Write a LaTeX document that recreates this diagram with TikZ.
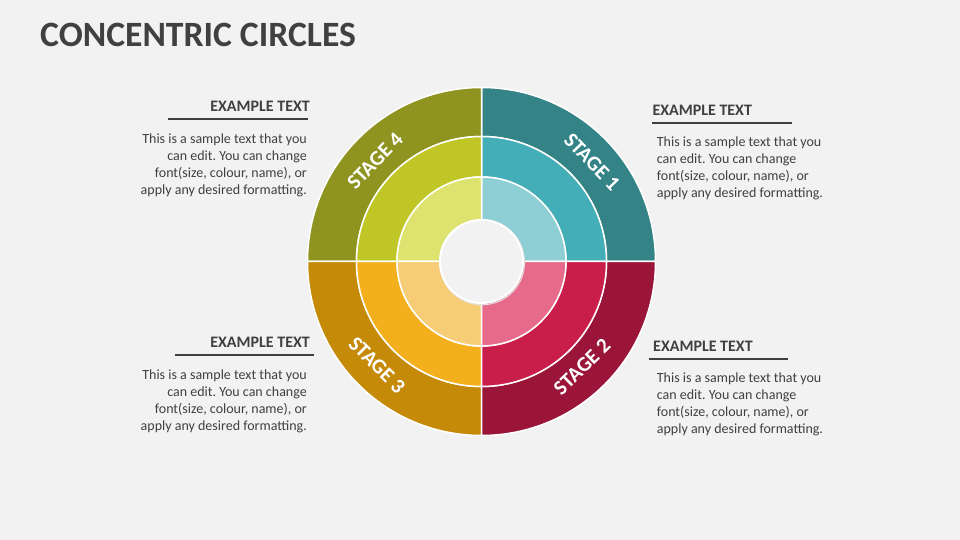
\documentclass[tikz,border=0pt]{standalone}
\usepackage{fontspec}
\setmainfont{Carlito}
\frenchspacing
\definecolor{bg}{HTML}{F2F2F2}
\definecolor{ink}{HTML}{404040}
\definecolor{oA}{HTML}{348387}
\definecolor{oB}{HTML}{9A1538}
\definecolor{oC}{HTML}{C68A09}
\definecolor{oD}{HTML}{8F9420}
\definecolor{mA}{HTML}{43ADB8}
\definecolor{mB}{HTML}{C91D4A}
\definecolor{mC}{HTML}{F3B01C}
\definecolor{mD}{HTML}{BFC626}
\definecolor{iA}{HTML}{8DCFD5}
\definecolor{iB}{HTML}{E86A8A}
\definecolor{iC}{HTML}{F6CC77}
\definecolor{iD}{HTML}{DEE26E}
\newcommand\ringsector[5]{% color, start, end, r inner, r outer
  \path[fill=#1,draw=white,line width=1.5pt,line join=round]
    ($(C)+(#2:#5pt)$) arc[start angle=#2,end angle=#3,radius=#5pt]
    -- ($(C)+(#3:#4pt)$) arc[start angle=#3,end angle=#2,radius=#4pt] -- cycle;}
\usetikzlibrary{calc}
\tikzset{
  heading/.style={font=\fontsize{16}{19}\selectfont\bfseries,text=ink,inner sep=0pt},
  body/.style={font=\fontsize{14}{17}\selectfont,text=ink,inner sep=0pt},
  stagelbl/.style={font=\fontsize{21}{24}\selectfont\bfseries,text=white,inner sep=0pt},
  rule/.style={draw=ink,line width=2pt},
}
\begin{document}
\begin{tikzpicture}[x=1pt,y=1pt]
\useasboundingbox (0,0) rectangle (960,540);
\fill[bg] (0,0) rectangle (960,540);
\coordinate (C) at (481.5,278.5);
% title
\node[anchor=base west,inner sep=0pt,text=ink,font=\fontsize{35.6}{40}\selectfont\bfseries] (title) at (40,493.3) {CONCENTRIC CIRCLES};
% outer ring
\ringsector{oA}{0}{90}{125}{174}
\ringsector{oD}{90}{180}{125}{174}
\ringsector{oC}{180}{270}{125}{174}
\ringsector{oB}{270}{360}{125}{174}
% middle ring
\ringsector{mA}{0}{90}{84.5}{125}
\ringsector{mD}{90}{180}{84.5}{125}
\ringsector{mC}{180}{270}{84.5}{125}
\ringsector{mB}{270}{360}{84.5}{125}
% inner ring
\ringsector{iA}{0}{90}{41.5}{84.5}
\ringsector{iD}{90}{180}{41.5}{84.5}
\ringsector{iC}{180}{270}{41.5}{84.5}
\ringsector{iB}{270}{360}{41.5}{84.5}
% hole
\draw[black!12,line width=1pt] ($(C)+(0.6,-0.8)$) circle[radius=42.5pt];
\node[circle,fill=bg,draw=white,line width=2pt,minimum size=83pt,inner sep=0pt] (hole) at (C) {};
% stage labels
\node[stagelbl,rotate=-46] (s1) at (592,378) {STAGE 1};
\node[stagelbl,rotate=44] (s2) at (582,173) {STAGE 2};
\node[stagelbl,rotate=-45] (s3) at (377,175) {STAGE 3};
\node[stagelbl,rotate=46] (s4) at (375,379) {STAGE 4};
% top left
\node[heading,anchor=base east] (h4) at (310,428.3) {EXAMPLE TEXT};
\coordinate (u4a) at (168,421);
\coordinate (u4b) at (308,421);
\draw[rule] (u4a) -- (u4b);
\node[body,anchor=north east,align=right] (t4) at (307,406.5) {This is a sample text that you\\can edit. You can change\\font(size, colour, name), or\\apply any desired formatting.};
% top right
\node[heading,anchor=base west] (h1) at (652.3,424) {EXAMPLE TEXT};
\coordinate (u1a) at (652,417.3);
\coordinate (u1b) at (792,417.3);
\draw[rule] (u1a) -- (u1b);
\node[body,anchor=north west,align=left] (t1) at (656.7,403.5) {This is a sample text that you\\can edit. You can change\\font(size, colour, name), or\\apply any desired formatting.};
% bottom left
\node[heading,anchor=base east] (h3) at (310,192.3) {EXAMPLE TEXT};
\coordinate (u3a) at (175,185);
\coordinate (u3b) at (314,185);
\draw[rule] (u3a) -- (u3b);
\node[body,anchor=north east,align=right] (t3) at (307,170.5) {This is a sample text that you\\can edit. You can change\\font(size, colour, name), or\\apply any desired formatting.};
% bottom right
\node[heading,anchor=base west] (h2) at (653,188.3) {EXAMPLE TEXT};
\coordinate (u2a) at (649,181);
\coordinate (u2b) at (788,181);
\draw[rule] (u2a) -- (u2b);
\node[body,anchor=north west,align=left] (t2) at (656.7,167.5) {This is a sample text that you\\can edit. You can change\\font(size, colour, name), or\\apply any desired formatting.};
\end{tikzpicture}
\end{document}
